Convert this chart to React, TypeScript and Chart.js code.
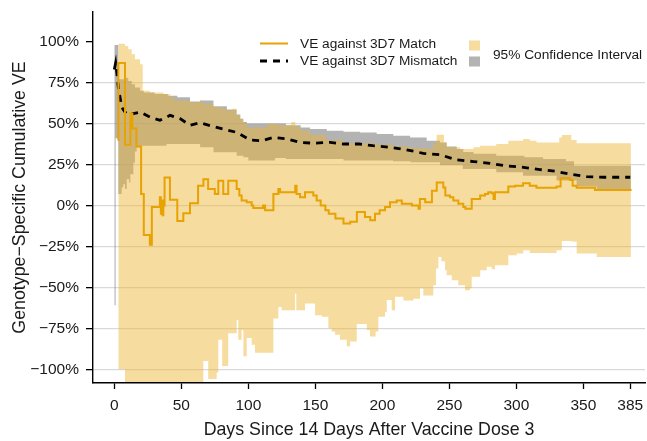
import { useEffect, useRef } from "react";
import { Chart, registerables } from "chart.js";

Chart.register(...registerables);

const FONT = "'Liberation Sans', Arial, Helvetica, sans-serif";
const TEXT = "#1a1a1a";
const MINUS = "\u2212";

// Axis ticks
const xTicks = [0, 50, 100, 150, 200, 250, 300, 350, 385];
const yTicks = [-100, -75, -50, -25, 0, 25, 50, 75, 100];

// VE against 3D7 match (step function, value holds until the next change day)
const matchDays = [
  2.5, 3, 8, 12, 13.5, 16.5, 20, 22, 26.5, 28,
  34, 34.7, 35.3, 36, 36.6, 37.5, 41.5, 47, 51.5, 56.5,
  62.5, 66.5, 70, 75, 77.6, 81.3, 85, 91.3, 93.3, 95,
  98.8, 102.5, 103.7, 111, 112.5, 118.7, 122.4, 123.7, 135, 136,
  138.6, 142.3, 148.5, 151, 154, 157.5, 160, 165, 171, 176,
  181, 187, 191, 194.5, 198, 202, 205.7, 210.7, 214.5, 222,
  227, 228, 232, 237, 240.6, 245.5, 247, 250.5, 253, 256.7,
  260.4, 262, 266.7, 273, 276.6, 279, 281.6, 283, 284, 294,
  299, 305, 310, 315, 330, 333, 340, 342, 345, 358.7,
  386,
];
const matchVE = [
  40, 87, 37, 56, 47, 36, 7, -18, -24, -1,
  5, -5, 3, -6, 0, 17, 3.5, -9.5, -4.7, 1.4,
  12, 16, 10, 7, 15, 7, 15, 10, 6, 3,
  2, 0, -1.6, 0, -3, 7, 10, 8, 12, 7,
  5, 8, 6, 3, 0, -3, -5, -8, -11, -10,
  -4, -7, -9, -5, -3, -1, 2, 3, 1, 0,
  -2, 4, 2, 9, 14, 11, 6, 5, 3, 1,
  -1, -2, 4, 6, 7, 8, 7.5, 4, 8, 11.5,
  12, 13.5, 12, 10.8, 11.5, 16.6, 15.5, 12, 10.8, 9.5,
  9.5,
];

// VE against 3D7 mismatch
const mismatchDays = [
  0, 1, 2, 3, 4.3, 5.5, 8, 10.4, 14.2, 19.2,
  26.6, 34, 41.6, 49, 56.5, 64, 71.4, 81.3, 91.3, 101.3,
  110, 118.7, 128.7, 138.6, 148.5, 161, 171, 183, 193, 205.7,
  218, 230.6, 243, 255.5, 268, 280.4, 292.8, 305.2, 317.7, 328.9,
  341.3, 352.5, 366, 385,
];
const mismatchVE = [
  83, 87, 80, 72, 66, 60, 57, 55, 56, 57,
  54, 52, 55, 53, 49, 50.5, 48.7, 46.6, 44.6, 40,
  39.5, 41.5, 40.6, 38.5, 38, 38.5, 37.5, 37.5, 36.5, 35.5,
  34, 31.8, 31, 27.8, 26.8, 25.7, 24.1, 23.3, 21.9, 20.9,
  18.9, 17.6, 17.2, 17.2,
];

// 95% CI, mismatch (grey band)
const mismatchHighDays = [
  0, 3, 8, 10.4, 13, 15.4, 19.2, 22, 30, 40,
  47, 56.5, 64, 74, 84, 91.3, 94, 96.3, 99, 114,
  128, 139, 146, 158.5, 171, 183.4, 195.8, 208.2, 220.7, 233.1,
  243, 248, 255.5, 260.4, 268, 285, 306, 320, 337, 343,
  385.5,
];
const mismatchHigh = [
  98, 77, 78, 76, 74, 72, 70, 69, 68, 67,
  66, 63.5, 64, 60.5, 58.5, 55.5, 53, 51, 50, 50,
  49, 47.6, 46.6, 45.6, 45, 44.6, 43.6, 42.6, 41.5, 39.5,
  38.5, 36, 34.5, 32.6, 31.5, 30.4, 29.4, 28.4, 27, 24.3,
  24.3,
];
const mismatchLowDays = [
  0, 1, 3, 5.5, 6.7, 8, 9.3, 11, 12, 14.2,
  15.4, 16.7, 20.4, 39, 64, 74, 91.3, 96.3, 100, 114,
  120, 128, 146, 171, 208, 221, 243, 260, 285, 305,
  330, 345, 360, 385.5,
];
const mismatchLow = [
  -61, 41, 7, 11, 13, 10, 16, 14, 19, 26,
  33, 35.5, 36.5, 37.5, 35.5, 32.4, 30.4, 29.4, 27.4, 27.4,
  29, 28.4, 28.4, 27.4, 27, 26.4, 24.5, 22.3, 20.3, 18.2,
  15.2, 11.6, 10.1, 10.1,
];

// 95% CI, match (yellow band)
const matchHighDays = [
  3, 8, 10.4, 13, 15.4, 19.2, 21.2, 26.6, 36.6, 41.6,
  45, 56.5, 64, 66, 74, 80, 84, 88, 91, 94,
  96, 99, 114, 122, 132, 135, 139, 146, 158, 171,
  196, 208, 221, 233, 238, 240.5, 246, 248, 258, 268,
  273, 285, 294, 305, 310, 315, 332, 334, 341, 345,
  360, 385.5,
];
const matchHigh = [
  98.7, 97.3, 95.3, 92.3, 89.2, 86.2, 70, 69, 68, 66,
  64, 63, 64, 62, 60, 59, 58, 59, 55, 53,
  50.7, 47.6, 49.7, 49, 51, 48, 45.6, 43, 40, 38,
  37, 36, 35, 34.5, 38, 43.2, 38.5, 35.5, 34.5, 35.5,
  36.5, 37.5, 39.5, 40.6, 39.5, 38.5, 41.5, 43, 40, 38,
  37.9, 37.9,
];
const matchLowDays = [
  3, 8, 66.4, 70.1, 76.4, 77.6, 80.5, 85, 91.3, 92.5,
  95, 96.3, 98.8, 102.5, 105, 118.7, 122.4, 124.9, 134.9, 135.8,
  142.3, 149.8, 154.8, 159.7, 162.2, 164.7, 168.4, 173.4, 175.9, 180.9,
  188.4, 190.8, 195, 197, 202, 203.3, 207, 209.5, 215.7, 223.1,
  228.1, 230.6, 235, 238, 240, 241.8, 244, 246.8, 248, 251.8,
  256.7, 261.7, 265.4, 266.7, 273, 277.9, 281.6, 284, 294, 300.3,
  305.2, 310, 330, 333.9, 341.3, 345, 360, 385.5,
];
const matchLow = [
  -100, -160, -95, -106, -102, -82, -98, -78, -70, -82,
  -76, -92, -81, -85, -90, -69, -62, -64, -53.7, -64,
  -59.8, -67, -68, -75, -77, -79, -82, -86, -83, -72.4,
  -76, -80, -77, -68, -65, -57.8, -64, -55.8, -58, -57,
  -50.7, -55, -55, -48.7, -38.5, -31.4, -34, -39.5, -42.6, -45.6,
  -48.7, -51.7, -50.5, -43.6, -39.5, -37.5, -39, -36.5, -30.4, -29.4,
  -27.4, -29, -27.4, -21.7, -22, -29.4, -31.4, -31.4,
];

const ORANGE = "#e8a202";
const YELLOW_FILL = "rgba(236, 181, 49, 0.47)";
const GREY_FILL = "rgba(128, 128, 128, 0.6)";

const pts = (xs: number[], ys: number[]) => xs.map((x, i) => ({ x, y: ys[i] }));
const pct = (v: number) => (v < 0 ? MINUS + Math.abs(v) : String(v)) + "%";

// Legend drawn in the upper right of the plot
const legendPlugin = {
  id: "veLegend",
  afterDraw(chart: any) {
    const ctx = chart.ctx as CanvasRenderingContext2D;
    ctx.save();
    ctx.font = `13.7px ${FONT}`;
    ctx.fillStyle = TEXT;
    ctx.textBaseline = "middle";
    ctx.textAlign = "left";

    ctx.strokeStyle = ORANGE;
    ctx.lineWidth = 2;
    ctx.beginPath();
    ctx.moveTo(260, 43.5);
    ctx.lineTo(288, 43.5);
    ctx.stroke();
    ctx.fillText("VE against 3D7 Match", 300, 44);

    ctx.strokeStyle = "#000";
    ctx.lineWidth = 2.8;
    ctx.setLineDash([7, 6]);
    ctx.beginPath();
    ctx.moveTo(260, 61);
    ctx.lineTo(288, 61);
    ctx.stroke();
    ctx.setLineDash([]);
    ctx.fillText("VE against 3D7 Mismatch", 300, 61.5);

    ctx.fillStyle = YELLOW_FILL;
    ctx.fillRect(469, 40.5, 11, 10);
    ctx.fillStyle = GREY_FILL;
    ctx.fillRect(469, 56.5, 11, 10);
    ctx.fillStyle = TEXT;
    ctx.fillText("95% Confidence Interval", 493, 55);
    ctx.restore();
  },
};

export default function App() {
  const ref = useRef<HTMLCanvasElement>(null);

  useEffect(() => {
    const canvas = ref.current;
    if (!canvas) return;
    const band = (data: any[], order: number, fill: any, color: string) => ({
      data,
      order,
      fill,
      backgroundColor: color,
      borderWidth: 0,
      pointRadius: 0,
      stepped: "before" as const,
    });
    const chart = new Chart(canvas, {
      type: "line",
      data: {
        datasets: [
          band(pts(mismatchLowDays, mismatchLow), 5, false, GREY_FILL),
          band(pts(mismatchHighDays, mismatchHigh), 4, "-1", GREY_FILL),
          band(pts(matchLowDays, matchLow), 3, false, YELLOW_FILL),
          band(pts(matchHighDays, matchHigh), 2, "-1", YELLOW_FILL),
          {
            data: pts(mismatchDays, mismatchVE),
            order: 1,
            borderColor: "#000",
            borderWidth: 2.8,
            borderDash: [7, 6],
            pointRadius: 0,
            fill: false,
          },
          {
            data: pts(matchDays, matchVE),
            order: 0,
            borderColor: ORANGE,
            borderWidth: 2,
            pointRadius: 0,
            fill: false,
            stepped: "before",
          },
        ],
      },
      options: {
        responsive: false,
        animation: false,
        devicePixelRatio: 1,
        events: [],
        layout: { padding: { top: 12, right: 2, left: 0, bottom: 0 } },
        plugins: {
          legend: { display: false },
          tooltip: { enabled: false },
        },
        scales: {
          x: {
            type: "linear",
            min: -15.9,
            max: 396,
            afterBuildTicks: (s: any) => {
              s.ticks = xTicks.map((v) => ({ value: v }));
            },
            afterFit: (s: any) => {
              s.height = 58;
              s.paddingLeft = 0;
              s.paddingRight = 0;
            },
            grid: {
              drawOnChartArea: false,
              drawTicks: true,
              tickLength: 6,
              tickColor: "#000",
              tickWidth: 1.3,
            },
            border: { display: true, color: "#000", width: 1.4, z: 1 },
            ticks: {
              autoSkip: false,
              maxRotation: 0,
              padding: 7,
              color: TEXT,
              font: { size: 15.5, family: FONT },
              callback: (v: any) => String(v),
            },
            title: {
              display: true,
              text: "Days Since 14 Days After Vaccine Dose 3",
              color: TEXT,
              font: { size: 17.8, family: FONT },
              padding: { top: 0, bottom: 0 },
            },
          },
          y: {
            type: "linear",
            min: -108.4,
            max: 118.1,
            afterBuildTicks: (s: any) => {
              s.ticks = yTicks.map((v) => ({ value: v }));
            },
            afterFit: (s: any) => {
              s.width = 93;
              s.paddingTop = 0;
              s.paddingBottom = 0;
            },
            grid: {
              color: (c: any) =>
                c.tick && c.tick.value === 100 ? "rgba(0,0,0,0)" : "#d9d9d9",
              lineWidth: 1.3,
              drawTicks: true,
              tickLength: 7,
              tickColor: "#000",
              tickWidth: 1.3,
            },
            border: { display: true, color: "#000", width: 1.4 },
            ticks: {
              padding: 7,
              color: TEXT,
              font: { size: 15.5, family: FONT },
              callback: (v: any) => pct(Number(v)),
            },
            title: {
              display: true,
              text: "Genotype" + MINUS + "Specific Cumulative VE",
              color: TEXT,
              font: { size: 17.8, family: FONT },
              padding: { top: 9.3, bottom: 0 },
            },
          },
        },
      } as any,
      plugins: [legendPlugin],
    });
    return () => chart.destroy();
  }, []);

  return (
    <div
      style={{
        position: "fixed",
        left: 0,
        top: 0,
        width: 647,
        height: 441,
        background: "#fff",
      }}
    >
      <canvas
        ref={ref}
        width={647}
        height={441}
        style={{ display: "block", width: 647, height: 441 }}
      />
    </div>
  );
}
